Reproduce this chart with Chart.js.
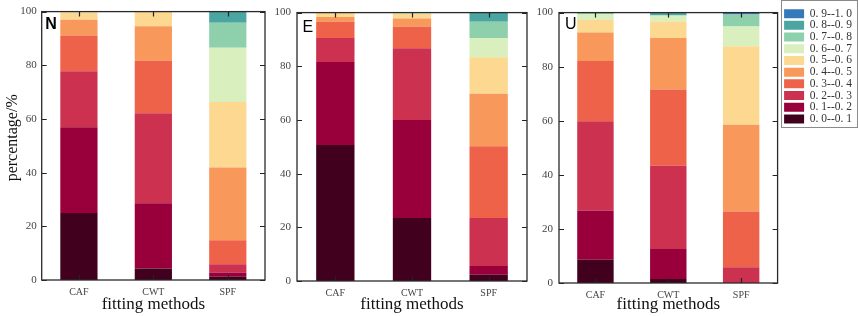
<!DOCTYPE html>
<html><head><meta charset="utf-8">
<script src="https://cdn.jsdelivr.net/npm/chart.js@4.4.1/dist/chart.umd.min.js"></script>
<style>
html,body{margin:0;padding:0;background:#fff;width:858px;height:316px;overflow:hidden}
.p{position:absolute;top:0}
canvas{display:block}
</style></head><body>
<div class="p" style="left:0px"><canvas id="cN" width="270" height="316"></canvas></div>
<div class="p" style="left:268px"><canvas id="cE" width="264" height="316"></canvas></div>
<div class="p" style="left:530px"><canvas id="cU" width="332" height="316"></canvas></div>
<script>
const categories = ['CAF', 'CWT', 'SPF'];
const binLabels = ['0. 0--0. 1','0. 1--0. 2','0. 2--0. 3','0. 3--0. 4','0. 4--0. 5','0. 5--0. 6','0. 6--0. 7','0. 7--0. 8','0. 8--0. 9','0. 9--1. 0'];
const binColors = ['#42001f','#99003b','#cd3150','#ee6249','#f8985a','#fdd891','#d9efbd','#8dd0ab','#4ba6a2','#3479b9'];
const yTicks = [0, 20, 40, 60, 80, 100];

// percentages per bin (0.0-0.1 ... 0.9-1.0) for each fitting method
const N_CAF = [25.0, 31.9, 20.9, 13.3, 5.9, 2.7, 0.3, 0, 0, 0];
const N_CWT = [4.3, 24.3, 33.5, 19.6, 12.8, 5.5, 0, 0, 0, 0];
const N_SPF = [1.2, 1.6, 3.1, 8.9, 27.1, 24.4, 20.2, 9.3, 4.2, 0];
const E_CAF = [50.7, 30.9, 8.9, 6.1, 1.8, 1.6, 0, 0, 0, 0];
const E_CWT = [23.5, 36.5, 26.7, 8.0, 3.1, 1.7, 0.5, 0, 0, 0];
const E_SPF = [2.3, 3.3, 17.9, 26.7, 19.6, 13.6, 7.1, 6.1, 3.4, 0];
const U_CAF = [8.6, 18.2, 33.0, 22.3, 10.5, 4.7, 2.2, 0.5, 0, 0];
const U_CWT = [1.5, 11.1, 30.8, 28.2, 19.0, 6.1, 2.2, 0, 1.1, 0];
const U_SPF = [0, 0, 5.8, 20.6, 32.1, 29.1, 7.3, 4.4, 0, 0.7];

const SERIF = "'Liberation Serif', 'Times New Roman', serif";
const SANS = "'Liberation Sans', Arial, sans-serif";

const frameTicks = {
  id: 'frameTicks',
  afterDatasetsDraw(chart, args, opts) {
    const {ctx, chartArea: a, scales: {x, y}} = chart;
    ctx.save();
    ctx.strokeStyle = '#222';
    ctx.lineWidth = 1.2;
    ctx.beginPath();
    y.ticks.forEach(t => {
      const py = Math.round(y.getPixelForValue(t.value)) + 0.5;
      ctx.moveTo(a.left, py); ctx.lineTo(a.left + 5, py);
      ctx.moveTo(a.right, py); ctx.lineTo(a.right - 5, py);
    });
    x.ticks.forEach((t, i) => {
      const px = Math.round(x.getPixelForTick(i)) + 0.5;
      ctx.moveTo(px, a.top); ctx.lineTo(px, a.top + 5);
      ctx.moveTo(px, a.bottom); ctx.lineTo(px, a.bottom - 5);
    });
    ctx.stroke();
    ctx.lineWidth = 1.3;
    ctx.strokeStyle = '#2a2a2a';
    ctx.strokeRect(a.left, a.top, a.width, a.height);
    ctx.fillStyle = '#000';
    ctx.font = opts.font;
    ctx.textBaseline = 'alphabetic';
    ctx.textAlign = 'left';
    ctx.fillText(opts.label, a.left + opts.dx, a.top + opts.dy);
    ctx.restore();
  }
};

const legendFrame = {
  id: 'legendFrame',
  afterDraw(chart, args, opts) {
    const lg = chart.legend;
    if (!lg || !lg.options.display || !lg.legendHitBoxes.length) return;
    const hb = lg.legendHitBoxes;
    const left = Math.round(Math.min(...hb.map(h => h.left)) - 3) + 0.5;
    const bottom = Math.round(Math.max(...hb.map(h => h.top + h.height)) + 2) + 0.5;
    const right = opts.right;
    const ctx = chart.ctx;
    ctx.save();
    ctx.strokeStyle = '#8a8a8a';
    ctx.lineWidth = 1;
    ctx.strokeRect(left, 0.5, right - left, bottom - 0.5);
    ctx.restore();
  }
};

function makePanel(id, label, rows, cfg) {
  const datasets = binLabels.map((bl, b) => ({
    label: bl,
    data: rows.map(r => r[b]),
    backgroundColor: binColors[b],
    borderWidth: 0,
    categoryPercentage: 1.0,
    barPercentage: 0.5
  }));
  const scales = {
    x: {
      stacked: true,
      grid: {display: false, drawTicks: false},
      border: {display: false},
      ticks: {color: '#444', font: {family: SERIF, size: 10}, padding: 6, maxRotation: 0},
      title: {display: true, text: 'fitting methods', color: '#111', font: {family: SERIF, size: 17}, padding: {top: 0, bottom: 1.5}},
      afterFit(s) { s.height = cfg.xh; }
    },
    y: {
      stacked: true,
      min: 0, max: 100,
      afterBuildTicks(s) { s.ticks = yTicks.map(v => ({value: v})); },
      grid: {display: false, drawTicks: false},
      border: {display: false},
      ticks: {color: '#444', font: {family: SERIF, size: 11}, padding: cfg.tp},
      title: {display: !!cfg.ytitle, text: cfg.ytitle || '', color: '#111', font: {family: SERIF, size: 16}, padding: {top: 3.5, bottom: 0}},
      afterFit(s) { s.width = cfg.yw; }
    }
  };
  if (cfg.legend) {
    scales.y2 = {
      position: 'right', display: true,
      grid: {display: false, drawTicks: false}, border: {display: false},
      ticks: {display: false},
      afterFit(s) { s.width = cfg.y2w; }
    };
  }
  return new Chart(document.getElementById(id), {
    type: 'bar',
    data: {labels: categories, datasets},
    options: {
      responsive: false,
      animation: false,
      devicePixelRatio: 1,
      layout: {padding: {top: cfg.pt, right: cfg.pr, bottom: 0, left: 0}},
      scales,
      plugins: {
        legend: cfg.legend ? {
          display: true, position: 'right', align: 'start', reverse: true, maxWidth: 100,
          labels: {boxWidth: 20, boxHeight: 9, padding: 0.2, color: '#333', font: {family: SERIF, size: 11.5}}
        } : {display: false},
        tooltip: {enabled: false},
        frameTicks: {label, font: cfg.lfont, dx: cfg.dx, dy: cfg.dy},
        legendFrame: {right: cfg.bright || 0}
      }
    },
    plugins: [frameTicks, legendFrame]
  });
}

makePanel('cN', 'N', [N_CAF, N_CWT, N_SPF], {xh: 36, yw: 41.7, tp: 5, pt: 9.3, pr: 5, ytitle: '    percentage/%', lfont: 'bold 16px ' + SANS, dx: 3.5, dy: 17.5});
makePanel('cE', 'E', [E_CAF, E_CWT, E_SPF], {xh: 35, yw: 29, tp: 6, pt: 7.3, pr: 5, lfont: '16px ' + SANS, dx: 5.5, dy: 19});
makePanel('cU', 'U', [U_CAF, U_CWT, U_SPF], {xh: 33, yw: 29, tp: 6, pt: 7.7, pr: 0, legend: true, y2w: 6.3, bright: 327.5, lfont: '16px ' + SANS, dx: 6, dy: 16.5});
</script>
</body></html>
